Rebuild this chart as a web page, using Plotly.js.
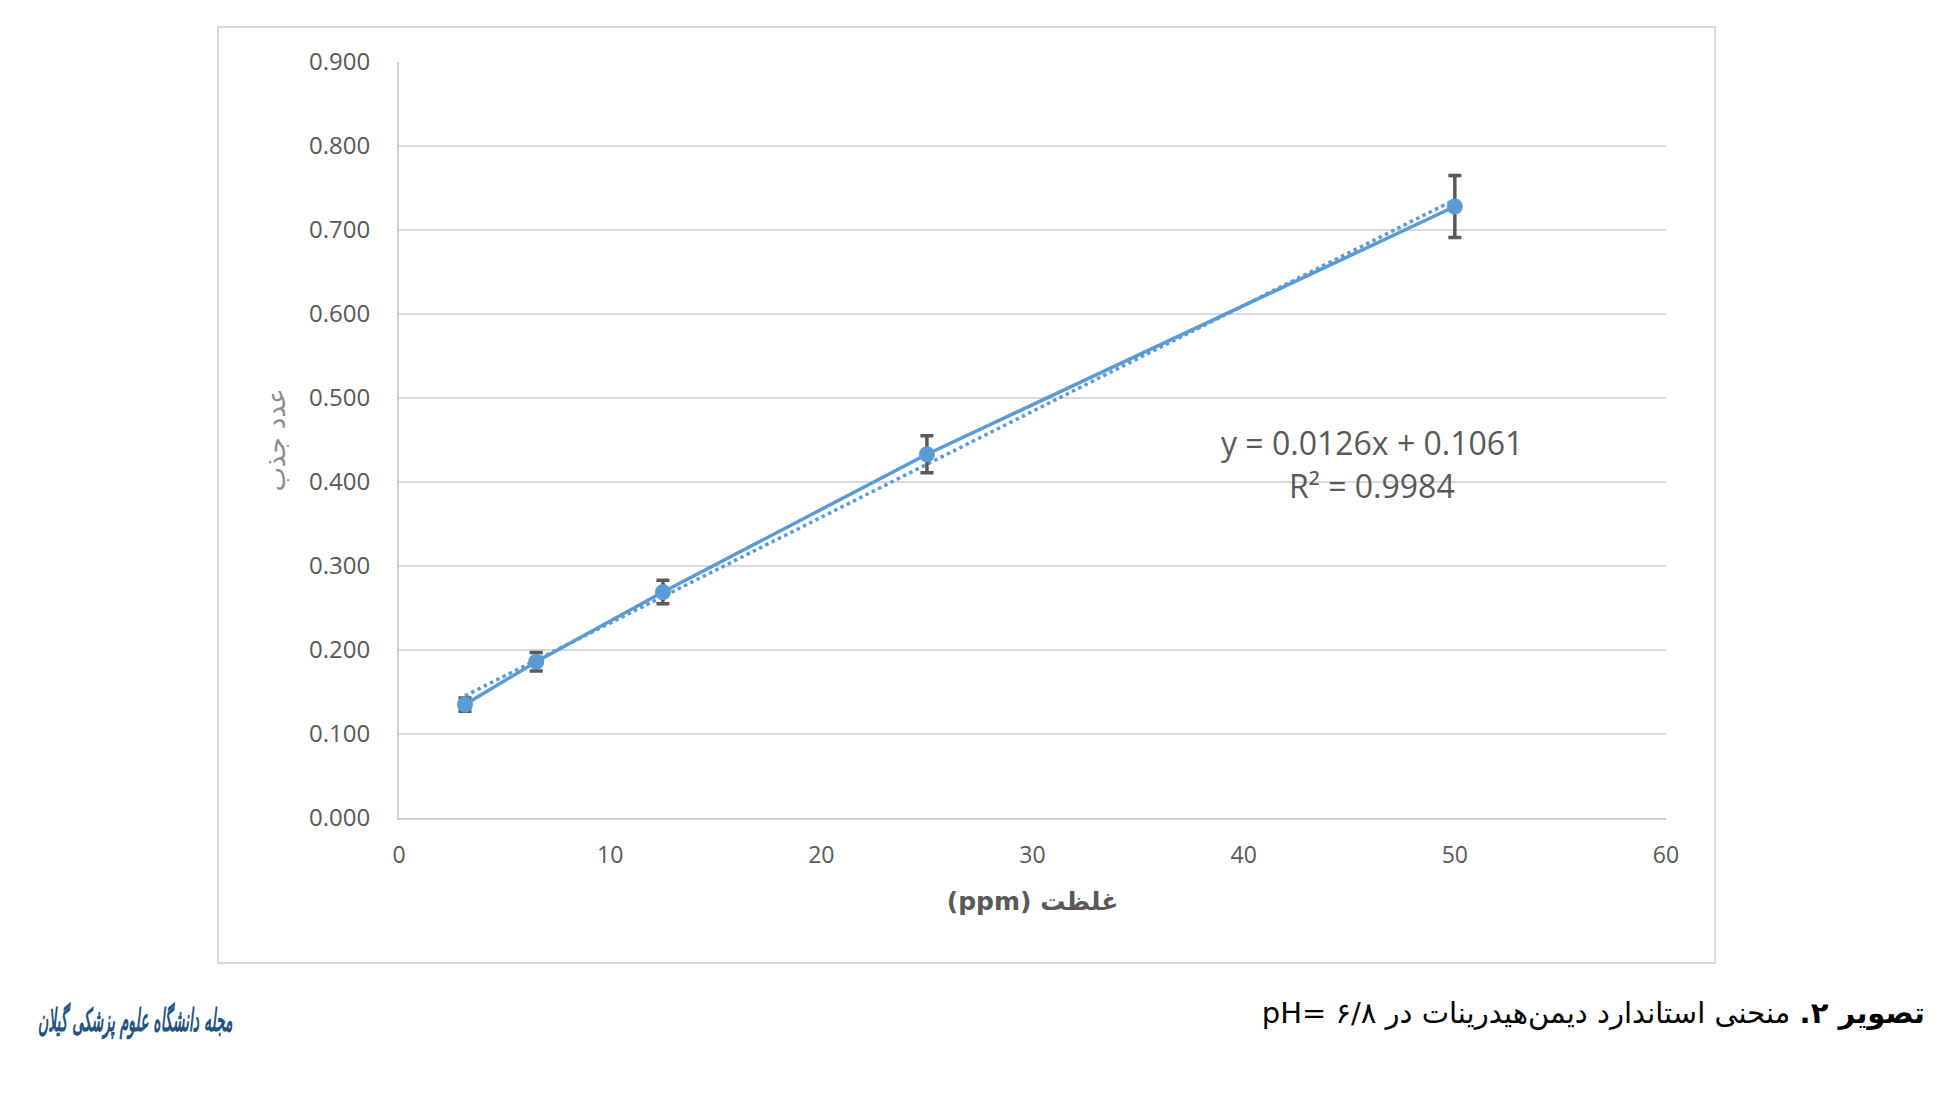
<!DOCTYPE html>
<html>
<head>
<meta charset="utf-8">
<script src="https://cdn.plot.ly/plotly-3.0.1.min.js"></script>
<style>
  html, body { margin: 0; padding: 0; background: #ffffff; }
  #wrap { position: relative; width: 1944px; height: 1114px; overflow: hidden; }
  #chart { position: absolute; left: 0; top: 0; width: 1944px; height: 1114px; }
  #caption { position: absolute; right: 19px; top: 996px; direction: rtl; font-family: "DejaVu Sans", "Noto Sans", sans-serif; font-size: 29px; color: #000; white-space: nowrap; }
  #caption b { font-weight: bold; }
  #logo { position: absolute; left: 38px; top: 1012px; direction: rtl; font-family: "DejaVu Sans", sans-serif; font-style: italic; font-weight: bold; font-size: 15px; color: #24527F; white-space: nowrap; transform: scale(0.93, 2.1); transform-origin: left center; }
</style>
</head>
<body>
<div id="wrap">
  <div id="chart"></div>
  <div id="caption"><b>تصویر ۲.</b> منحنی استاندارد دیمن‌هیدرینات در pH= ۶/۸</div>
  <div id="logo">مجله دانشگاه علوم پزشکی گیلان</div>
</div>
<script>
// ---- data ----
const concentration = [3.125, 6.5, 12.5, 25, 50];          // ppm
const absorbance    = [0.135, 0.186, 0.269, 0.433, 0.728];
const errorValues   = [0.008, 0.011, 0.014, 0.022, 0.037];
const trendSlope = 0.0126;
const trendIntercept = 0.1061;
const equationText = "y = 0.0126x + 0.1061";
const r2Text = "R² = 0.9984";
const xTitle = "(ppm) غلظت";
const yTitle = "عدد جذب";

const xMin = Math.min(...concentration), xMax = Math.max(...concentration);
const trendX = [xMin, xMax];
const trendY = trendX.map(x => trendSlope * x + trendIntercept);

const blue = "#5B9BD5";
const grey = "#595959";

const traces = [
  {
    x: trendX, y: trendY, type: "scatter", mode: "lines",
    line: { color: blue, width: 3.5, dash: "dot" },
    hoverinfo: "skip", showlegend: false
  },
  {
    x: concentration, y: absorbance, type: "scatter", mode: "lines+markers",
    line: { color: blue, width: 3.5 },
    marker: { color: blue, size: 16, symbol: "circle" },
    error_y: { type: "data", array: errorValues, visible: true, color: grey, thickness: 3.5, width: 6.5 },
    showlegend: false
  }
];

const layout = {
  width: 1944, height: 1114,
  margin: { l: 399, r: 278, t: 62, b: 296 },
  paper_bgcolor: "#ffffff", plot_bgcolor: "#ffffff",
  showlegend: false,
  font: { family: "Open Sans, sans-serif", color: grey },
  xaxis: {
    range: [0, 60], dtick: 10, tick0: 0,
    showgrid: false, zeroline: false,
    showline: true, linecolor: "#D0D0D0", linewidth: 2,
    ticks: "", ticklabelstandoff: 15,
    tickfont: { size: 23, color: grey, family: "Open Sans, sans-serif" },
    title: { text: xTitle, standoff: 24, font: { size: 25, color: grey, family: "DejaVu Sans, sans-serif", weight: "bold" } }
  },
  yaxis: {
    range: [0, 0.9], dtick: 0.1, tick0: 0, tickformat: ".3f",
    showgrid: true, gridcolor: "#D9D9D9", gridwidth: 2,
    zeroline: false,
    showline: true, linecolor: "#D0D0D0", linewidth: 2,
    ticks: "", ticklabelstandoff: 22,
    tickfont: { size: 24, color: grey, family: "Open Sans, sans-serif" },
    title: { text: yTitle, standoff: 16, font: { size: 26, color: "#8C8C8C", family: "DejaVu Sans, sans-serif" } }
  },
  shapes: [
    { type: "rect", xref: "paper", yref: "paper",
      x0: (218 - 399) / 1267, x1: (1715 - 399) / 1267,
      y0: (818 - 963) / 756, y1: (818 - 27) / 756,
      line: { color: "#D9D9D9", width: 2 }, fillcolor: "rgba(0,0,0,0)", layer: "below" }
  ],
  annotations: [
    { x: 46.1, y: 0.447, xref: "x", yref: "y", text: equationText, showarrow: false,
      font: { size: 32, color: grey, family: "Open Sans, sans-serif" } },
    { x: 46.1, y: 0.396, xref: "x", yref: "y", text: r2Text, showarrow: false,
      font: { size: 32, color: grey, family: "Open Sans, sans-serif" } }
  ]
};

Plotly.newPlot("chart", traces, layout, { displayModeBar: false, staticPlot: true });
</script>
</body>
</html>
